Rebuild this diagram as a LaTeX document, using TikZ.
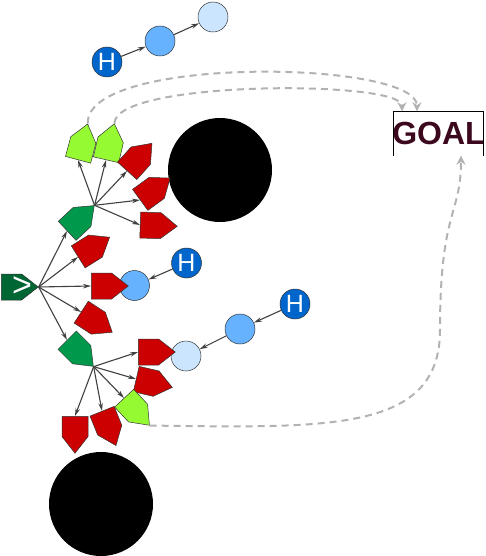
\documentclass[tikz,border=0pt]{standalone}
\usepackage{fontspec}
\setmainfont{Liberation Sans}
\usetikzlibrary{arrows.meta, shapes.symbols}
\definecolor{rootgreen}{RGB}{0,102,51}
\definecolor{midgreen}{RGB}{0,153,76}
\definecolor{leafgreen}{RGB}{150,250,50}
\definecolor{sigred}{RGB}{204,0,0}
\definecolor{deepblue}{RGB}{0,102,204}
\definecolor{midblue}{RGB}{102,178,255}
\definecolor{paleblue}{RGB}{204,229,255}
\definecolor{goalred}{RGB}{60,8,30}
\tikzset{
  sig/.style={signal, signal to=east, signal pointer angle=76, draw=black!80, line width=0.5pt,
    minimum width=37pt, minimum height=26pt, inner sep=0pt, anchor=west},
  redsig/.style={sig, fill=sigred},
  greensig/.style={sig, fill=midgreen},
  leafsig/.style={sig, fill=leafgreen},
  ball/.style={circle, draw=black!80, line width=0.5pt, minimum size=30pt, inner sep=0pt},
  hball/.style={ball, fill=deepblue, text=white, font=\fontsize{25}{25}\selectfont},
  hole/.style={circle, fill=black, minimum size=104pt, inner sep=0pt},
  line/.style={-{Stealth[length=8pt,width=4.5pt,fill=black!45]}, draw=black!75, line width=1.1pt},
  goalline/.style={-{Stealth[length=9pt,width=9pt]}, draw=black!30, line width=2pt, dash pattern=on 7pt off 5pt}
}
\begin{document}
\begin{tikzpicture}[x=1pt, y=-1pt]
\useasboundingbox (0,0) rectangle (486,556);
% obstacles
\node[hole] (obsa) at (220,170) {};
\node[hole] (obsb) at (101,504) {};
% helper chains
\node[ball, fill=paleblue] (pa) at (213,17) {};
\node[ball, fill=midblue] (ma) at (160,41) {};
\node[hball] (ha) at (107,62) {H};
\node[ball, fill=midblue] (mb) at (134.5,285.5) {};
\node[hball] (hb) at (186.5,263) {H};
\node[ball, fill=paleblue] (pc) at (186,356) {};
\node[ball, fill=midblue] (mc) at (240,329) {};
\node[hball] (hc) at (295,304) {H};
\draw[line] (ha) -- (ma);
\draw[line] (ma) -- (pa);
\draw[line] (hb) -- (mb);
\draw[line] (hc) -- (mc);
\draw[line] (mc) -- (pc);
% search tree
\node[sig, fill=rootgreen, text=white, font=\fontsize{34}{34}\selectfont] (root) at (1,287) {\makebox[0pt]{\hspace{21pt}>}};
\node[greensig, rotate=43] (ga) at (67,231) {};
\node[redsig, rotate=32] (ra) at (78,257) {};
\node[redsig] (rb) at (91,286) {};
\node[redsig, rotate=-33] (rc) at (81,312) {};
\node[greensig, rotate=-45] (gb) at (67,340) {};
\node[leafsig, rotate=75] (la) at (78,160) {};
\node[leafsig, rotate=77] (lb) at (106,160) {};
\node[redsig, rotate=48] (rd) at (127,171) {};
\node[redsig, rotate=36] (re) at (140,200) {};
\node[redsig, rotate=-2] (rf) at (140,225) {};
\node[redsig] (rg) at (138,352) {};
\node[redsig, rotate=-13] (rh) at (136,379) {};
\node[leafsig, rotate=-47] (lc) at (124,398) {};
\node[redsig, rotate=-68] (ri) at (102,411) {};
\node[redsig, rotate=-90] (rj) at (75,416) {};
\foreach \a/\b in {root/ga, root/ra, root/rb, root/rc, root/gb,
  ga/la, ga/lb, ga/rd, ga/re, ga/rf,
  gb/rg, gb/rh, gb/lc, gb/ri, gb/rj}
  \draw[line] (\a.east) -- (\b.west);
% goal
\node[font=\fontsize{32}{32}\selectfont\bfseries, text=goalred, inner sep=0pt, minimum height=44pt] (goal) at (438.5,133.5) {GOAL};
\draw[line width=0.6pt] ([xshift=1.7pt]goal.south west) |- ([xshift=-1.7pt]goal.north east) -- ([xshift=-1.7pt]goal.south east);
\draw[goalline] (la.east) .. controls (85,55) and (417,60) .. ([xshift=-21.5pt]goal.north);
\draw[goalline] (lb.east) .. controls (115,80) and (402,80) .. ([xshift=-36.5pt]goal.north);
\draw[goalline] (lc.east) .. controls (330,428) and (440,432) .. (440,330)
  .. controls (440,210) and (461,215) .. ([xshift=22.5pt]goal.south);
\end{tikzpicture}
\end{document}
